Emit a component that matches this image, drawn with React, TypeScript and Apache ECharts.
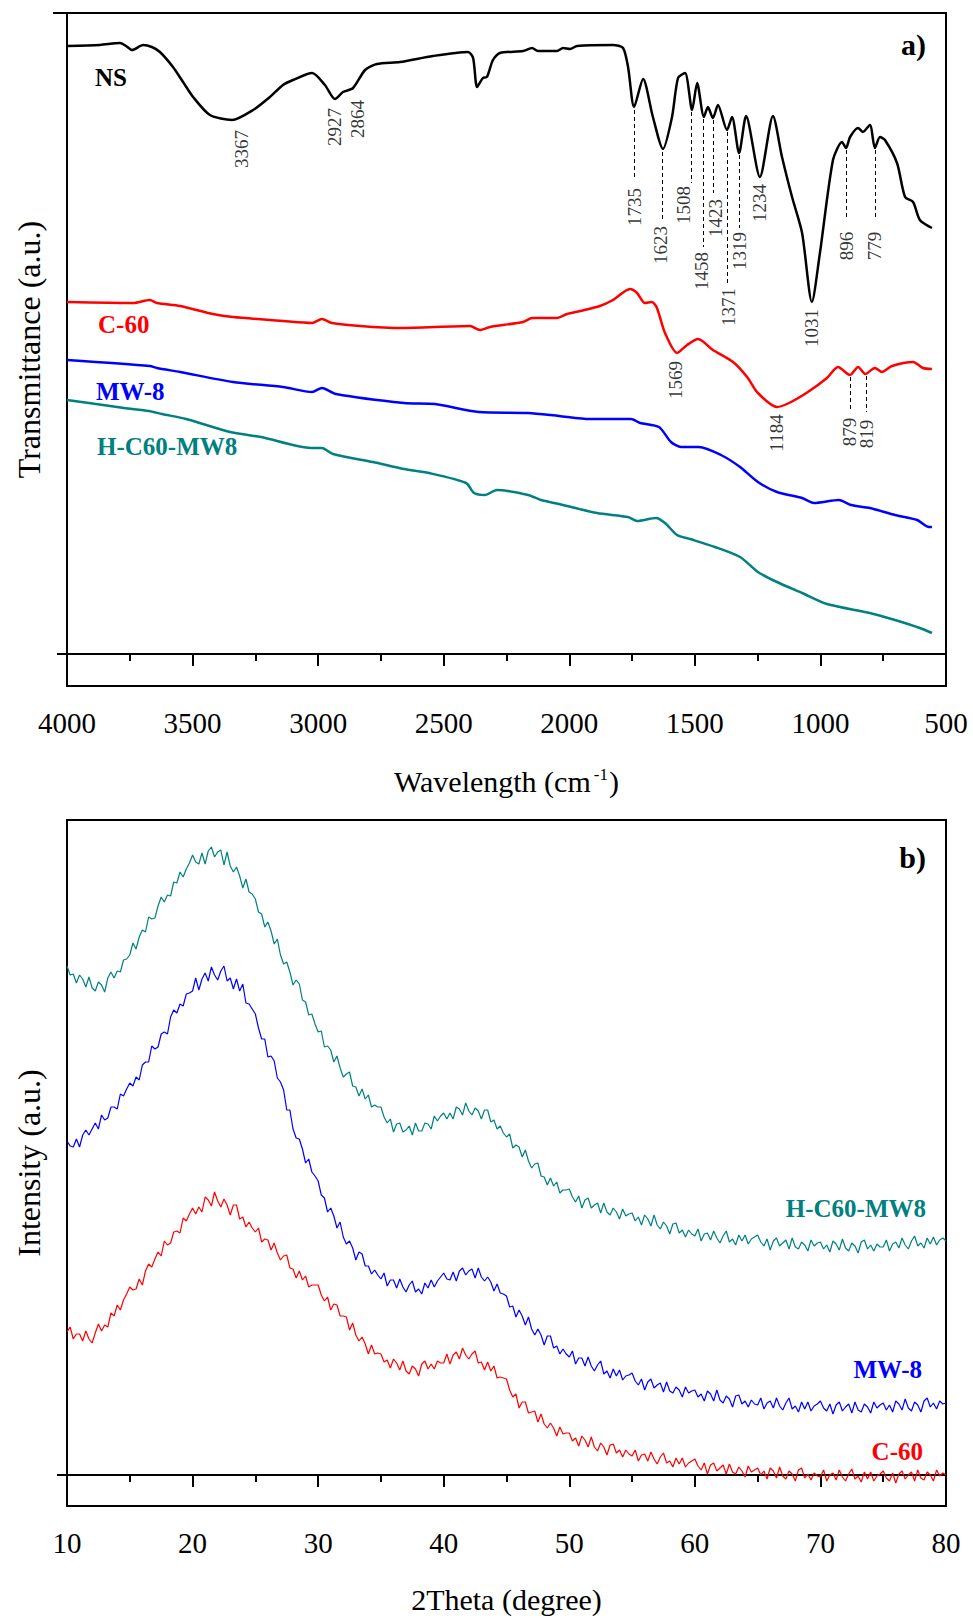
import React, { useEffect, useRef } from "react";
import * as echarts from "echarts";

const SERIF = '"Liberation Serif", "Times New Roman", Times, serif';

// ---------- Panel a) FTIR : [wavenumber (cm-1), transmittance (a.u.)] ----------
const nsSpectrum = [
  [4000, 608], [3869, 609], [3789, 611], [3765, 608], [3741, 604], [3697, 609], [3662, 607], [3630, 602],
  [3578, 587], [3538, 572], [3498, 557], [3431, 539], [3343, 534], [3259, 544], [3192, 557], [3140, 569],
  [3100, 574], [3024, 581], [2973, 569], [2933, 555], [2901, 562], [2861, 566], [2813, 584], [2766, 590],
  [2674, 592], [2543, 598], [2403, 602], [2383, 596], [2367, 567], [2344, 576], [2328, 577], [2304, 594],
  [2276, 601], [2184, 603], [2148, 606], [2125, 603], [2049, 603], [2025, 606], [1997, 605], [1969, 608],
  [1826, 609], [1786, 606], [1766, 587], [1742, 547], [1706, 575], [1667, 537], [1627, 505], [1591, 537],
  [1567, 576], [1539, 581], [1511, 544], [1491, 571], [1464, 537], [1448, 547], [1428, 536], [1408, 549],
  [1372, 524], [1352, 537], [1324, 501], [1296, 538], [1241, 477], [1189, 538], [1153, 497], [1113, 457],
  [1073, 421], [1034, 352], [1002, 401], [950, 494], [914, 512], [898, 506], [882, 517], [850, 526],
  [831, 522], [803, 529], [783, 506], [763, 517], [743, 514], [695, 491], [663, 457], [631, 452],
  [604, 434], [556, 426],
];
const c60Spectrum = [
  [4000, 352], [3737, 351], [3670, 354], [3642, 351], [3550, 348], [3419, 340], [3339, 337], [3140, 333],
  [3024, 331], [2985, 335], [2945, 331], [2833, 328], [2674, 326], [2395, 328], [2356, 324], [2316, 327],
  [2184, 332], [2148, 336], [2049, 336], [2009, 340], [1957, 343], [1878, 348], [1826, 354], [1758, 365],
  [1730, 361], [1699, 351], [1671, 352], [1651, 346], [1619, 321], [1571, 301], [1531, 309], [1487, 315],
  [1428, 304], [1348, 292], [1292, 277], [1249, 261], [1173, 247], [1125, 251], [1050, 262], [974, 276],
  [930, 287], [882, 279], [850, 287], [822, 280], [783, 286], [755, 282], [715, 288], [631, 292],
  [592, 286], [556, 285],
];
const mw8Spectrum = [
  [4000, 294], [3670, 288], [3642, 286], [3550, 282], [3339, 272], [3140, 267], [3024, 262], [2985, 266],
  [2929, 260], [2658, 251], [2535, 250], [2360, 242], [2164, 241], [2041, 238], [1918, 235], [1754, 235],
  [1718, 231], [1643, 227], [1595, 212], [1555, 207], [1484, 207], [1396, 199], [1320, 187], [1249, 172],
  [1173, 162], [1073, 156], [1026, 151], [926, 154], [878, 149], [803, 146], [703, 139], [615, 134],
  [568, 127], [556, 127],
];
const hc60mw8Spectrum = [
  [4000, 254], [3773, 246], [3674, 243], [3622, 240], [3526, 235], [3351, 222], [3228, 217], [3028, 206],
  [2985, 206], [2941, 200], [2782, 192], [2658, 185], [2559, 181], [2411, 171], [2379, 161], [2336, 159],
  [2288, 164], [2164, 159], [2113, 154], [2041, 150], [1890, 141], [1766, 137], [1730, 133], [1655, 136],
  [1619, 131], [1571, 119], [1519, 115], [1420, 107], [1320, 97], [1249, 82], [1173, 72], [1073, 61],
  [974, 50], [803, 41], [703, 34], [604, 26], [556, 21],
];

// peak annotations: [position x (cm-1), position y, text]
const ftirPeakLabels: [number, number, string][] = [
  [3307, 505, "3367"], [2933, 527, "2927"], [2845, 535, "2864"], [1742, 447, "1735"],
  [1635, 409, "1623"], [1545, 449, "1508"], [1472, 383, "1458"], [1418, 436, "1423"],
  [1368, 347, "1371"], [1322, 403, "1319"], [1241, 451, "1234"], [1034, 326, "1031"],
  [898, 408, "896"], [785, 408, "779"], [1579, 274, "1569"], [1173, 221, "1184"],
  [886, 222, "879"], [815, 220, "819"],
];
// dashed guide lines: [x (cm-1), y from, y to]
const ftirPeakGuides: [number, number, number][] = [
  [1742, 544, 474], [1631, 502, 432], [1515, 542, 471], [1468, 535, 407], [1428, 534, 461],
  [1372, 522, 371], [1324, 499, 426], [898, 504, 434], [783, 504, 434], [882, 277, 242], [819, 278, 242],
];

// ---------- Panel b) XRD : intensity (a.u.) from 10 to 80 deg, every 0.25 deg ----------
const XRD_START = 10;
const XRD_STEP = 0.25;
const xrdHC60MW8 = [
  509, 500, 501, 492, 500, 496, 488, 498, 487, 484, 493, 490, 483, 497, 503, 497, 504, 503, 515, 516,
  520, 532, 526, 538, 545, 543, 558, 556, 557, 569, 578, 573, 580, 579, 593, 592, 603, 598, 606, 612,
  620, 613, 611, 622, 611, 624, 628, 618, 623, 625, 610, 623, 609, 603, 608, 599, 587, 596, 583, 581,
  576, 563, 561, 548, 553, 544, 531, 536, 520, 511, 513, 503, 490, 495, 491, 475, 473, 460, 461, 451,
  443, 444, 428, 429, 425, 413, 419, 407, 398, 401, 403, 389, 388, 379, 386, 376, 380, 368, 370, 368,
  368, 358, 352, 356, 343, 351, 352, 343, 345, 349, 340, 352, 344, 344, 352, 351, 346, 359, 354, 359,
  362, 356, 362, 356, 368, 366, 360, 372, 364, 360, 367, 364, 356, 365, 365, 353, 355, 346, 349, 342,
  338, 341, 327, 330, 328, 318, 325, 314, 307, 311, 312, 299, 298, 290, 297, 289, 293, 282, 285, 285,
  286, 278, 273, 279, 267, 275, 277, 267, 270, 272, 262, 272, 263, 260, 267, 263, 256, 266, 259, 261,
  262, 254, 258, 250, 260, 256, 249, 260, 250, 246, 253, 249, 241, 251, 252, 242, 245, 238, 245, 241,
  239, 246, 234, 241, 242, 235, 244, 237, 232, 239, 244, 233, 236, 230, 240, 234, 240, 231, 236, 238,
  240, 233, 229, 236, 225, 234, 237, 229, 232, 235, 226, 237, 228, 226, 233, 230, 224, 235, 229, 232,
  233, 226, 230, 223, 234, 231, 225, 236, 227, 224, 232, 229, 222, 233, 235, 226, 230, 224, 231, 228,
  228, 235, 224, 231, 233, 227, 237, 230, 226, 234, 239, 229, 232, 227, 237, 231, 238, 230, 235, 237,
  234,
];
const xrdMW8 = [
  334, 329, 328, 336, 328, 340, 345, 340, 346, 352, 346, 360, 355, 357, 368, 368, 366, 381, 379, 386,
  392, 389, 398, 395, 410, 413, 413, 429, 426, 428, 441, 443, 441, 458, 465, 462, 471, 469, 481, 482,
  484, 497, 485, 496, 502, 494, 508, 500, 495, 504, 509, 494, 497, 486, 496, 484, 491, 472, 471, 466,
  461, 447, 436, 436, 418, 419, 414, 397, 393, 385, 365, 365, 346, 337, 336, 326, 312, 316, 303, 299,
  294, 280, 277, 263, 267, 259, 247, 253, 238, 231, 234, 227, 215, 223, 221, 209, 209, 201, 205, 200,
  196, 202, 189, 195, 195, 187, 196, 188, 183, 190, 194, 183, 186, 181, 192, 187, 195, 188, 194, 198,
  202, 196, 195, 203, 194, 204, 207, 200, 204, 206, 197, 207, 198, 194, 198, 193, 184, 191, 182, 181,
  179, 168, 169, 158, 165, 159, 150, 158, 146, 140, 146, 140, 130, 139, 139, 127, 129, 121, 126, 121,
  118, 124, 111, 117, 117, 109, 118, 109, 104, 110, 114, 101, 104, 97, 106, 99, 105, 95, 99, 100,
  102, 94, 90, 96, 85, 93, 96, 87, 90, 92, 83, 93, 84, 82, 88, 85, 78, 88, 82, 84,
  85, 78, 81, 74, 84, 81, 74, 85, 75, 72, 79, 76, 68, 79, 80, 71, 74, 68, 75, 71,
  70, 77, 66, 72, 74, 67, 77, 69, 65, 72, 77, 66, 69, 63, 73, 66, 73, 64, 69, 71,
  74, 67, 64, 71, 61, 70, 73, 64, 68, 71, 62, 73, 65, 63, 71, 68, 62, 73, 67, 70,
  72, 65, 70, 63, 74, 71, 65, 76, 67, 64, 73, 70, 63, 74, 77, 68, 72, 66, 74, 71,
  72,
];
const xrdC60 = [
  143, 148, 136, 141, 141, 134, 144, 136, 132, 142, 151, 144, 150, 148, 162, 159, 170, 165, 175, 181,
  188, 185, 186, 196, 190, 204, 211, 208, 216, 223, 219, 234, 230, 232, 243, 244, 242, 257, 254, 261,
  267, 261, 268, 263, 278, 275, 269, 283, 274, 268, 276, 270, 260, 270, 270, 256, 258, 248, 253, 247,
  243, 247, 233, 236, 235, 225, 232, 222, 215, 219, 220, 207, 206, 197, 204, 195, 199, 188, 190, 190,
  190, 180, 174, 178, 165, 171, 170, 159, 159, 158, 145, 152, 140, 134, 138, 131, 121, 130, 121, 122,
  121, 113, 115, 107, 116, 112, 105, 114, 104, 101, 109, 106, 99, 111, 114, 106, 111, 106, 114, 112,
  112, 121, 111, 120, 123, 116, 127, 120, 116, 121, 124, 112, 113, 105, 113, 104, 109, 97, 98, 97,
  96, 85, 78, 81, 67, 73, 73, 62, 63, 64, 53, 61, 51, 47, 52, 47, 39, 48, 41, 42,
  42, 34, 37, 29, 39, 35, 28, 38, 28, 24, 32, 28, 20, 30, 31, 22, 25, 18, 25, 21,
  19, 25, 14, 20, 21, 14, 23, 16, 11, 18, 22, 12, 14, 8, 17, 11, 17, 8, 12, 14,
  16, 9, 5, 12, 1, 10, 12, 4, 7, 10, 1, 11, 3, 1, 8, 4, -2, 9, 3, 5,
  7, 0, 4, -4, 7, 4, -3, 8, -1, -4, 4, 1, -6, 5, 7, -3, 1, -5, 2, -1,
  -2, 5, -6, 0, 2, -5, 5, -2, -6, 1, 6, -4, -1, -7, 3, -4, 3, -6, -1, 1,
  4, -3, -6, 2, -8, 1, 4, -4, 0, 3, -6, 5, -3, -5, 3, 0, -6, 5, -1, 2,
  0,
];

const xTicksA = { min: 500, max: 4000, interval: 500 };
const xTicksB = { min: 10, max: 80, interval: 10 };

const BLACK = "#000000";
const RED = "#ff0000";
const BLUE = "#0000ff";
const TEAL = "#008080";

export default function App() {
  const ref = useRef<HTMLDivElement>(null);
  useEffect(() => {
    if (!ref.current) return;
    const chart = echarts.init(ref.current, undefined, { renderer: "svg" });
    const xrd = (vals: number[]) => vals.map((v, i) => [XRD_START + i * XRD_STEP, v]);

    const axisLineStyle = { color: BLACK, width: 2 };
    const tickLabel = () => ({
      fontFamily: SERIF,
      fontSize: 29,
      color: BLACK,
      margin: 22,
      formatter: (v: number) => String(v),
    });
    const xName = { fontFamily: SERIF, fontSize: 30, color: BLACK };

    const txt = (text: string, x: number, y: number, color: string, align: string, size = 25) => ({
      type: "text",
      x,
      y,
      silent: true,
      style: {
        text,
        fill: color,
        font: `bold ${size}px ${SERIF}`,
        align,
        textAlign: align,
        verticalAlign: "middle",
        textVerticalAlign: "middle",
      },
    });

    const option: any = {
      animation: false,
      backgroundColor: "#ffffff",
      grid: [
        { left: 67, top: 13, width: 879, height: 673, show: true, borderColor: BLACK, borderWidth: 2 },
        { left: 67, top: 820, width: 879, height: 686, show: true, borderColor: BLACK, borderWidth: 2 },
      ],
      xAxis: [
        {
          gridIndex: 0,
          type: "value",
          ...xTicksA,
          inverse: true,
          axisLine: { show: true, lineStyle: axisLineStyle },
          axisTick: { show: true, length: 12, lineStyle: axisLineStyle },
          minorTick: { show: true, splitNumber: 2, length: 7, lineStyle: axisLineStyle },
          axisLabel: tickLabel(),
          splitLine: { show: false },
          name: "{n|Wavelength (cm}{s|-1}{n|)}",
          nameLocation: "middle",
          nameGap: 80,
          nameTextStyle: {
            rich: {
              n: { ...xName },
              s: { fontFamily: SERIF, fontSize: 17, color: BLACK, verticalAlign: "top", padding: [0, 1, 0, 3] },
            },
          },
        },
        {
          gridIndex: 1,
          type: "value",
          ...xTicksB,
          axisLine: { show: true, lineStyle: axisLineStyle },
          axisTick: { show: true, length: 12, lineStyle: axisLineStyle },
          minorTick: { show: true, splitNumber: 2, length: 7, lineStyle: axisLineStyle },
          axisLabel: tickLabel(),
          splitLine: { show: false },
          name: "2Theta (degree)",
          nameLocation: "middle",
          nameGap: 78,
          nameTextStyle: xName,
        },
      ],
      yAxis: [
        {
          gridIndex: 0,
          type: "value",
          min: -32,
          max: 641,
          axisLine: { show: true, lineStyle: axisLineStyle },
          axisTick: { show: true, customValues: [0], length: 10, lineStyle: axisLineStyle },
          axisLabel: { show: false },
          splitLine: { show: false },
          name: "Transmittance (a.u.)",
          nameLocation: "middle",
          nameRotate: 90,
          nameGap: 22,
          nameTextStyle: { fontFamily: SERIF, fontSize: 32, color: BLACK },
        },
        {
          gridIndex: 1,
          type: "value",
          min: -31,
          max: 655,
          axisLine: { show: true, lineStyle: axisLineStyle },
          axisTick: { show: true, customValues: [0], length: 10, lineStyle: axisLineStyle },
          axisLabel: { show: false },
          splitLine: { show: false },
          name: "Intensity (a.u.)",
          nameLocation: "middle",
          nameRotate: 90,
          nameGap: 22,
          nameTextStyle: { fontFamily: SERIF, fontSize: 32, color: BLACK },
        },
      ],
      series: [
        { name: "NS", type: "line", xAxisIndex: 0, yAxisIndex: 0, data: nsSpectrum, showSymbol: false, smooth: 0.25, lineStyle: { color: BLACK, width: 2.5 }, silent: true },
        { name: "C-60", type: "line", xAxisIndex: 0, yAxisIndex: 0, data: c60Spectrum, showSymbol: false, smooth: 0.25, lineStyle: { color: RED, width: 2.5 }, silent: true },
        { name: "MW-8", type: "line", xAxisIndex: 0, yAxisIndex: 0, data: mw8Spectrum, showSymbol: false, smooth: 0.25, lineStyle: { color: BLUE, width: 2.5 }, silent: true },
        { name: "H-C60-MW8", type: "line", xAxisIndex: 0, yAxisIndex: 0, data: hc60mw8Spectrum, showSymbol: false, smooth: 0.25, lineStyle: { color: TEAL, width: 2.5 }, silent: true },
        {
          name: "peaks",
          type: "scatter",
          xAxisIndex: 0,
          yAxisIndex: 0,
          symbolSize: 1,
          silent: true,
          itemStyle: { color: "rgba(0,0,0,0)" },
          data: ftirPeakLabels.map(([w, v, t]) => ({ value: [w, v], name: t })),
          label: {
            show: true,
            position: "inside",
            rotate: 90,
            formatter: "{b}",
            fontFamily: SERIF,
            fontSize: 19,
            color: BLACK,
          },
          markLine: {
            silent: true,
            symbol: ["none", "none"],
            label: { show: false },
            lineStyle: { type: [4, 3], color: BLACK, width: 1 },
            data: ftirPeakGuides.map(([w, a, b]) => [{ coord: [w, a] }, { coord: [w, b] }]),
          },
        },
        { name: "xrd H-C60-MW8", type: "line", xAxisIndex: 1, yAxisIndex: 1, data: xrd(xrdHC60MW8), showSymbol: false, lineStyle: { color: TEAL, width: 1.2 }, silent: true },
        { name: "xrd MW-8", type: "line", xAxisIndex: 1, yAxisIndex: 1, data: xrd(xrdMW8), showSymbol: false, lineStyle: { color: BLUE, width: 1.2 }, silent: true },
        { name: "xrd C-60", type: "line", xAxisIndex: 1, yAxisIndex: 1, data: xrd(xrdC60), showSymbol: false, lineStyle: { color: RED, width: 1.2 }, silent: true },
      ],
      graphic: [
        { type: "line", silent: true, shape: { x1: 53, y1: 13, x2: 67, y2: 13 }, style: { stroke: BLACK, lineWidth: 2 } },
        txt("NS", 95, 77, BLACK, "left"),
        txt("C-60", 98, 324, RED, "left"),
        txt("MW-8", 96, 391, BLUE, "left"),
        txt("H-C60-MW8", 97, 446, TEAL, "left"),
        txt("a)", 926, 44, BLACK, "right", 30),
        txt("b)", 926, 857, BLACK, "right", 30),
        txt("H-C60-MW8", 926, 1208, TEAL, "right"),
        txt("MW-8", 922, 1369, BLUE, "right"),
        txt("C-60", 923, 1451, RED, "right"),
      ],
    };
    chart.setOption(option);
    return () => chart.dispose();
  }, []);
  return (
    <div
      ref={ref}
      style={{ position: "absolute", left: 0, top: 0, width: 973, height: 1618, background: "#fff" }}
    />
  );
}
